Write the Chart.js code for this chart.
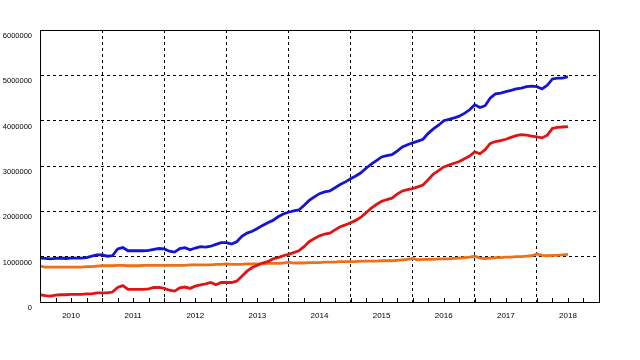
<!DOCTYPE html>
<html>
<head>
<meta charset="utf-8">
<script src="https://cdn.jsdelivr.net/npm/chart.js@4/dist/chart.umd.min.js"></script>
<style>
  html, body { margin: 0; padding: 0; background: #fff; }
  #wrap { width: 640px; height: 360px; }
</style>
</head>
<body>
<div id="wrap"><canvas id="myChart" width="640" height="360"></canvas></div>
<script>
// months since Jan 2010
let months = [];
for (let m = 0; m <= 102; m++) months.push(m);

let firstYear = 2010;
let yearCount = 9;

// values in millions
let blueValues = [
  0.97, 0.96, 0.95, 0.96, 0.97, 0.96, 0.97, 0.97, 0.97, 0.98, 1.01, 1.04,
  1.04, 1.01, 1.02, 1.17, 1.20, 1.13, 1.13, 1.13, 1.13, 1.14, 1.16, 1.18,
  1.17, 1.12, 1.10, 1.18, 1.20, 1.15, 1.19, 1.22, 1.21, 1.23, 1.27, 1.31,
  1.31, 1.28, 1.33, 1.45, 1.52, 1.56, 1.62, 1.69, 1.75, 1.80, 1.88, 1.94,
  1.98, 2.01, 2.03, 2.13, 2.24, 2.32, 2.39, 2.43, 2.45, 2.52, 2.59, 2.65,
  2.72, 2.78, 2.85, 2.95, 3.04, 3.12, 3.20, 3.23, 3.25, 3.33, 3.42, 3.47,
  3.51, 3.55, 3.59, 3.72, 3.82, 3.90, 4.00, 4.03, 4.06, 4.10, 4.16, 4.24,
  4.35, 4.29, 4.33, 4.50, 4.59, 4.61, 4.64, 4.67, 4.70, 4.72, 4.75, 4.76,
  4.75, 4.70, 4.78, 4.92, 4.94, 4.94, 4.97
];
let redValues = [
  0.16, 0.14, 0.13, 0.15, 0.16, 0.16, 0.17, 0.17, 0.17, 0.18, 0.18, 0.20,
  0.20, 0.20, 0.22, 0.32, 0.36, 0.28, 0.28, 0.28, 0.28, 0.29, 0.32, 0.32,
  0.30, 0.26, 0.24, 0.31, 0.33, 0.30, 0.35, 0.38, 0.40, 0.43, 0.38, 0.43,
  0.43, 0.43, 0.46, 0.57, 0.68, 0.76, 0.81, 0.86, 0.89, 0.95, 0.98, 1.02,
  1.05, 1.09, 1.13, 1.22, 1.33, 1.40, 1.46, 1.50, 1.52, 1.59, 1.66, 1.70,
  1.75, 1.80, 1.87, 1.97, 2.07, 2.15, 2.22, 2.26, 2.29, 2.38, 2.45, 2.48,
  2.50, 2.54, 2.58, 2.70, 2.82, 2.90, 2.98, 3.02, 3.06, 3.10, 3.16, 3.22,
  3.31, 3.27, 3.36, 3.50, 3.54, 3.56, 3.59, 3.63, 3.67, 3.69, 3.68, 3.66,
  3.64, 3.62, 3.68, 3.83, 3.85, 3.86, 3.87
];
let orangeValues = [
  0.79, 0.77, 0.77, 0.77, 0.77, 0.77, 0.77, 0.77, 0.77, 0.78, 0.78, 0.79,
  0.80, 0.80, 0.80, 0.81, 0.81, 0.80, 0.80, 0.80, 0.81, 0.81, 0.81, 0.81,
  0.81, 0.81, 0.81, 0.81, 0.81, 0.82, 0.82, 0.82, 0.82, 0.82, 0.83, 0.83,
  0.84, 0.83, 0.83, 0.83, 0.84, 0.84, 0.84, 0.84, 0.85, 0.85, 0.85, 0.86,
  0.88, 0.86, 0.86, 0.86, 0.87, 0.87, 0.87, 0.88, 0.88, 0.88, 0.89, 0.89,
  0.89, 0.89, 0.90, 0.90, 0.90, 0.90, 0.91, 0.91, 0.91, 0.92, 0.93, 0.94,
  0.96, 0.93, 0.94, 0.94, 0.94, 0.95, 0.95, 0.95, 0.96, 0.97, 0.98, 0.99,
  1.01, 0.97, 0.96, 0.97, 0.98, 0.98, 0.99, 0.99, 1.00, 1.00, 1.01, 1.02,
  1.06, 1.03, 1.02, 1.03, 1.03, 1.04, 1.05
];

let yMax = 6000000;
let yStep = 1000000;

function toPoints(values) {
  return values.map((v, i) => ({ x: months[i], y: v * 1000000 }));
}

// frame round the plot and small quarter ticks on the bottom axis
let framePlugin = {
  id: 'frame',
  afterDraw(chart) {
    let ctx = chart.ctx;
    let a = chart.chartArea;
    let xs = chart.scales.x;
    ctx.save();
    ctx.strokeStyle = '#000';
    ctx.lineWidth = 1;
    ctx.setLineDash([]);
    ctx.strokeRect(Math.round(a.left) + 0.5, Math.round(a.top) + 0.5,
                   Math.round(a.right - a.left), Math.round(a.bottom - a.top));
    ctx.beginPath();
    for (let m = 3; m < yearCount * 12; m += 3) {
      let px = Math.round(xs.getPixelForValue(m)) + 0.5;
      ctx.moveTo(px, a.bottom);
      ctx.lineTo(px, a.bottom - 4);
    }
    ctx.stroke();
    ctx.restore();
  }
};

let ctx = document.getElementById('myChart').getContext('2d');
let chart = new Chart(ctx, {
  type: 'line',
  data: {
    datasets: [
      { label: 'blue', data: toPoints(blueValues), borderColor: '#1414d2', backgroundColor: 'transparent' },
      { label: 'red', data: toPoints(redValues), borderColor: '#e01414', backgroundColor: 'transparent' },
      { label: 'orange', data: toPoints(orangeValues), borderColor: '#f06e14', backgroundColor: 'transparent' }
    ]
  },
  options: {
    responsive: false,
    animation: false,
    layout: { padding: { top: 30, right: 41, left: 0, bottom: 0 } },
    elements: {
      point: { radius: 0 },
      line: { borderWidth: 2.8, tension: 0 }
    },
    plugins: {
      legend: { display: false },
      tooltip: { enabled: false }
    },
    scales: {
      x: {
        type: 'linear',
        min: 0,
        max: yearCount * 12,
        afterFit(scale) { scale.height = 58; },
        afterBuildTicks(scale) {
          let t = [];
          for (let m = 0; m <= yearCount * 12; m += 6) t.push({ value: m });
          scale.ticks = t;
        },
        grid: {
          drawTicks: false,
          color(c) {
            let v = c.tick ? c.tick.value : 0;
            return (v % 12 === 0 && v > 0 && v < yearCount * 12) ? '#000' : 'transparent';
          },
          lineWidth: 1
        },
        border: { display: true, color: '#000', width: 1, dash: [3, 3] },
        ticks: {
          autoSkip: false,
          maxRotation: 0,
          padding: 9,
          color: '#000',
          font: { family: 'Liberation Sans', size: 8 },
          callback(v) {
            return (v % 12 === 6) ? String(firstYear + Math.floor(v / 12)) : '';
          }
        }
      },
      y: {
        min: 0,
        max: yMax,
        afterFit(scale) { scale.width = 40; },
        grid: {
          drawTicks: false,
          color(c) {
            let v = c.tick ? c.tick.value : 0;
            return (v > 0 && v < yMax) ? '#000' : 'transparent';
          },
          lineWidth: 1
        },
        border: { display: true, color: '#000', width: 1, dash: [3, 3] },
        ticks: {
          stepSize: yStep,
          padding: 8,
          labelOffset: 6,
          color: '#000',
          font: { family: 'Liberation Sans', size: 7.5 },
          callback(v) { return String(v); }
        }
      }
    }
  },
  plugins: [framePlugin]
});
</script>
</body>
</html>
